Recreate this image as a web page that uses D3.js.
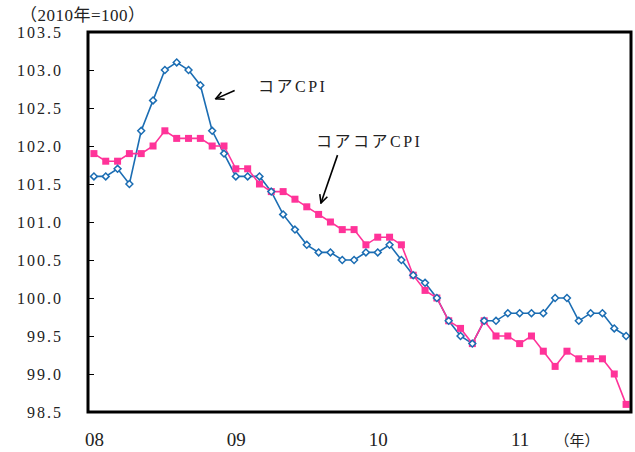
<!DOCTYPE html>
<html>
<head>
<meta charset="utf-8">
<script src="https://cdn.jsdelivr.net/npm/d3@7"></script>
<style>
  body { margin: 0; background: #fff; }
  text { font-family: "Liberation Serif", "Noto Sans CJK JP", serif; fill: #222; }
</style>
</head>
<body>
<div id="chart"></div>
<script>
// monthly, Jan 2008 - Oct 2011
var core = [101.6, 101.6, 101.7, 101.5, 102.2, 102.6, 103.0, 103.1, 103.0, 102.8, 102.2, 101.9,
            101.6, 101.6, 101.6, 101.4, 101.1, 100.9, 100.7, 100.6, 100.6, 100.5, 100.5, 100.6,
            100.6, 100.7, 100.5, 100.3, 100.2, 100.0, 99.7, 99.5, 99.4, 99.7, 99.7, 99.8,
            99.8, 99.8, 99.8, 100.0, 100.0, 99.7, 99.8, 99.8, 99.6, 99.5]
var coreCore = [101.9, 101.8, 101.8, 101.9, 101.9, 102.0, 102.2, 102.1, 102.1, 102.1, 102.0, 102.0,
                101.7, 101.7, 101.5, 101.4, 101.4, 101.3, 101.2, 101.1, 101.0, 100.9, 100.9, 100.7,
                100.8, 100.8, 100.7, 100.3, 100.1, 100.0, 99.7, 99.6, 99.4, 99.7, 99.5, 99.5,
                99.4, 99.5, 99.3, 99.1, 99.3, 99.2, 99.2, 99.2, 99.0, 98.6]
var yearTicks = [0, 12, 24, 36]
var yearLabels = ['08', '09', '10', '11']
var yTicks = [98.5, 99.0, 99.5, 100.0, 100.5, 101.0, 101.5, 102.0, 102.5, 103.0, 103.5]

var width = 635,
    height = 452,
    margin = { top: 32, right: 3, bottom: 40, left: 88 };

var blue = '#1b6db3', pink = '#ff3399';

var svg = d3.select('#chart').append('svg')
    .attr('width', width)
    .attr('height', height)

var defs = svg.append('defs')
defs.append('marker')
    .attr('id', 'arrow')
    .attr('viewBox', '0 0 10 10')
    .attr('refX', 9).attr('refY', 5)
    .attr('markerWidth', 10).attr('markerHeight', 10)
    .attr('markerUnits', 'userSpaceOnUse')
    .attr('orient', 'auto')
    .append('path')
    .attr('d', 'M1,1 L9,5 L1,9')
    .attr('fill', 'none')
    .attr('stroke', '#000')
    .attr('stroke-width', 1.6)

var x = d3.scalePoint()
    .domain(d3.range(core.length))
    .range([margin.left, width - margin.right])
    .padding(0.5)
var y = d3.scaleLinear()
    .domain([98.5, 103.5])
    .range([height - margin.bottom, margin.top])

// y axis, ticks inward
var yAxis = d3.axisLeft(y)
    .tickValues(yTicks)
    .tickSizeInner(-6)
    .tickSizeOuter(0)
    .tickPadding(25)
    .tickFormat(d3.format('.1f'))
var gy = svg.append('g')
    .attr('transform', `translate(${margin.left},0)`)
    .call(yAxis)
gy.select('.domain').remove()
gy.selectAll('line').attr('stroke', '#000')
gy.selectAll('text')
    .style('font-size', '16px')
    .style('letter-spacing', '2px')
    .attr('fill', '#222')

// x axis labels only
var xAxis = d3.axisBottom(x)
    .tickValues(yearTicks)
    .tickSize(0)
    .tickPadding(21)
    .tickFormat((d, i) => yearLabels[i])
var gx = svg.append('g')
    .attr('transform', `translate(0,${height - margin.bottom})`)
    .call(xAxis)
gx.select('.domain').remove()
gx.selectAll('text').style('font-size', '19px').attr('fill', '#222')

svg.append('text')
    .attr('x', 577).attr('y', 446)
    .attr('text-anchor', 'middle')
    .style('font-size', '15px')
    .text('（年）')

svg.append('text')
    .attr('x', 20).attr('y', 21)
    .style('font-size', '17px')
    .style('letter-spacing', '0.5px')
    .text('（2010年=100）')

// lines
var line = d3.line()
    .x((d, i) => x(i))
    .y(d => y(d))

svg.append('path')
    .datum(core)
    .attr('fill', 'none')
    .attr('stroke', blue)
    .attr('stroke-width', 1.6)
    .attr('d', line)

svg.append('path')
    .datum(coreCore)
    .attr('fill', 'none')
    .attr('stroke', pink)
    .attr('stroke-width', 1.6)
    .attr('d', line)

svg.selectAll('.sq')
    .data(coreCore)
    .enter().append('rect')
    .attr('class', 'sq')
    .attr('x', (d, i) => x(i) - 3.5)
    .attr('y', d => y(d) - 3.5)
    .attr('width', 7)
    .attr('height', 7)
    .attr('fill', pink)

svg.selectAll('.dia')
    .data(core)
    .enter().append('path')
    .attr('class', 'dia')
    .attr('d', d3.symbol().type(d3.symbolDiamond2).size(30))
    .attr('transform', (d, i) => `translate(${x(i)},${y(d)})`)
    .attr('fill', '#fff')
    .attr('stroke', blue)
    .attr('stroke-width', 1.5)

// frame
svg.append('rect')
    .attr('x', margin.left)
    .attr('y', margin.top)
    .attr('width', width - margin.left - margin.right - 1)
    .attr('height', height - margin.top - margin.bottom)
    .attr('fill', 'none')
    .attr('stroke', '#000')
    .attr('stroke-width', 3)

// annotations
var notes = [
    { label: 'コアCPI', tx: 258, ty: 92, from: [11.9, 102.73], to: [10.3, 102.62] },
    { label: 'コアコアCPI', tx: 316, ty: 147, from: [20.6, 101.88], to: [19.2, 101.25] }
]
notes.forEach(function (n) {
    svg.append('text')
        .attr('x', n.tx).attr('y', n.ty)
        .style('font-size', '16px')
        .style('letter-spacing', '2.5px')
        .text(n.label)
    svg.append('line')
        .attr('x1', x(0) + n.from[0] * x.step()).attr('y1', y(n.from[1]))
        .attr('x2', x(0) + n.to[0] * x.step()).attr('y2', y(n.to[1]))
        .attr('stroke', '#000')
        .attr('stroke-width', 1.6)
        .attr('marker-end', 'url(#arrow)')
})
</script>
</body>
</html>
